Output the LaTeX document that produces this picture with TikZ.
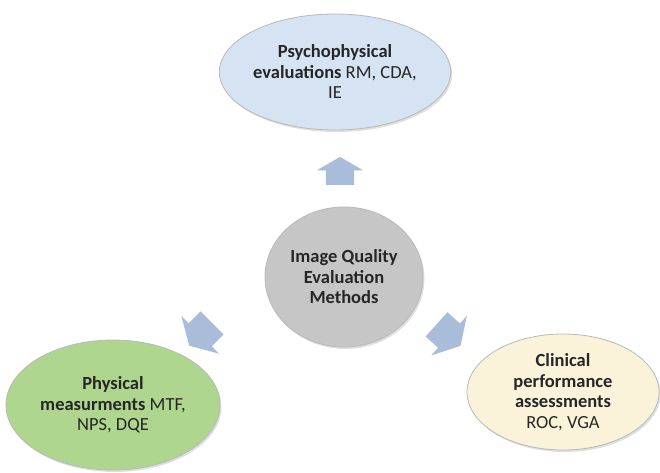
\documentclass[tikz,border=0pt]{standalone}
\usepackage{fontspec}
\setmainfont{Carlito}
\usetikzlibrary{shapes.geometric,shapes.arrows,shadows}

\definecolor{psyblue}{HTML}{D5E3F2}
\definecolor{midgray}{HTML}{C6C6C6}
\definecolor{physgreen}{HTML}{AED68F}
\definecolor{clincream}{HTML}{FBF2DA}
\definecolor{arrowblue}{HTML}{A9BCDA}

\tikzset{
  method/.style={ellipse, draw=gray!55, line width=0.8pt, align=center,
    inner sep=0pt, font=\fontsize{18.5}{20.5}\selectfont, text=black!85,
    drop shadow={opacity=0.25, shadow xshift=1.5pt, shadow yshift=-2pt}},
  blockarrow/.style={single arrow, fill=arrowblue, draw=none,
    minimum height=28pt, inner xsep=0pt, inner ysep=14pt, text width=0pt,
    single arrow head extend=9pt, single arrow tip angle=120}
}

\begin{document}
\begin{tikzpicture}[x=1pt,y=1pt]
    \useasboundingbox (0,0) rectangle (660,472);

    % centre
    \node[method, fill=midgray, minimum width=158pt, minimum height=140pt]
        (iq) at (344,195) {\textbf{Image Quality}\\ \textbf{Evaluation}\\ \textbf{Methods}};

    % the three groups of methods
    \node[method, fill=psyblue, minimum width=210pt, minimum height=116pt]
        (psy) at (335,400) {\textbf{Psychophysical}\\ \textbf{evaluations} RM, CDA,\\ IE};
    \node[method, fill=physgreen, minimum width=214pt, minimum height=130pt]
        (phys) at (113,67) {\textbf{Physical}\\ \textbf{measurments} MTF,\\ NPS, DQE};
    \node[method, fill=clincream, minimum width=192pt, minimum height=116pt]
        (clin) at (563,80) {\textbf{Clinical}\\ \textbf{performance}\\ \textbf{assessments}\\ ROC, VGA};

    % arrows
    \node[blockarrow, rotate=90] (uparrow) at (340,297) {};
    \node[blockarrow, rotate=225, scale=1.15] (leftarrow) at (204,141) {};
    \node[blockarrow, rotate=-42, scale=1.15] (rightarrow) at (445,140) {};
\end{tikzpicture}
\end{document}
